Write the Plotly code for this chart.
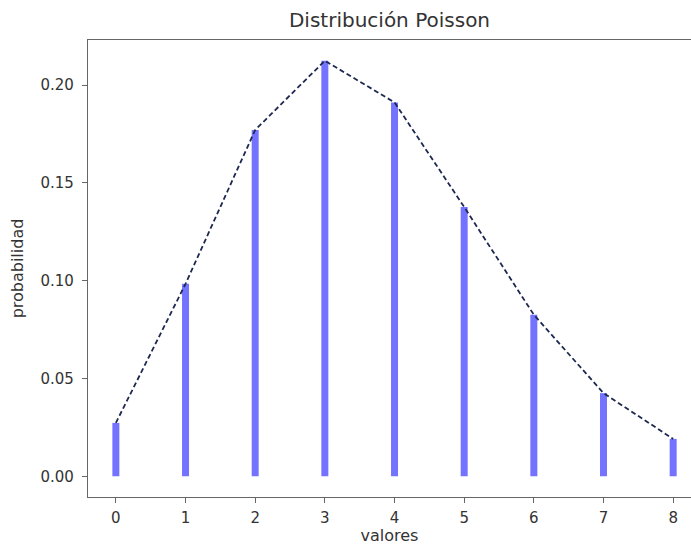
import plotly.graph_objects as go

valores = [0, 1, 2, 3, 4, 5, 6, 7, 8]
probabilidad = [0.0273, 0.0984, 0.1771, 0.2125, 0.1912, 0.1377, 0.0826, 0.0425, 0.0191]
y_ticks = [0.00, 0.05, 0.10, 0.15, 0.20]
title_text = "Distribución Poisson"
x_label = "valores"
y_label = "probabilidad"

# vertical lines built from data
vx, vy = [], []
for x, p in zip(valores, probabilidad):
    vx += [x, x, None]
    vy += [0, p, None]

fig = go.Figure()
fig.add_trace(go.Scatter(x=vx, y=vy, mode="lines",
                         line=dict(color="rgba(0,0,255,0.55)", width=7),
                         hoverinfo="skip", showlegend=False))
fig.add_trace(go.Scatter(x=valores, y=probabilidad, mode="lines",
                         line=dict(color="#1c2850", width=1.8, dash="5px,3px"),
                         showlegend=False))

font_family = "DejaVu Sans"
fig.update_layout(
    width=691, height=545,
    margin=dict(l=88, r=0, t=40, b=48),
    plot_bgcolor="white", paper_bgcolor="white",
    font=dict(family=font_family, color="#222"),
    title=dict(text=title_text, x=0.5, xref="paper", xanchor="center",
               y=1 - 20 / 545, yref="container", yanchor="middle",
               font=dict(size=20, color="#333")),
    xaxis=dict(range=[-0.4, 8.256], tickvals=valores, ticktext=[str(v) for v in valores],
               showgrid=False, zeroline=False, showline=True, linecolor="#666", linewidth=1.3,
               mirror=True, ticks="outside", ticklen=5, tickcolor="#666",
               ticklabelstandoff=2,
               tickfont=dict(size=15, color="#333"),
               title=dict(text=x_label, font=dict(size=16, color="#333"), standoff=6)),
    yaxis=dict(range=[-0.0106, 0.2231], tickvals=y_ticks, tickformat=".2f",
               showgrid=False, zeroline=False, showline=True, linecolor="#666", linewidth=1.3,
               ticks="outside", ticklen=5, tickcolor="#666",
               ticklabelstandoff=5,
               tickfont=dict(size=15, color="#333"),
               title=dict(text=y_label, font=dict(size=16, color="#333"), standoff=12)),
)

fig.write_html("out.html")
